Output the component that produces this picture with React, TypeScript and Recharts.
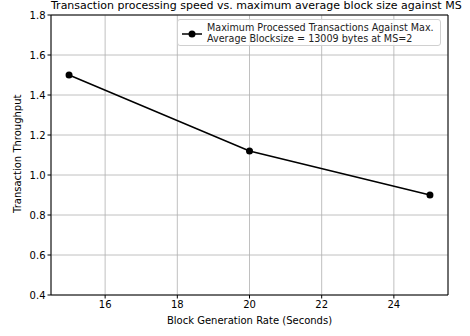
import { LineChart, Line, XAxis, YAxis, CartesianGrid, ReferenceLine, Legend } from 'recharts';

const blockRates = [15, 20, 25];
const throughput = [1.5, 1.12, 0.9];
const xTicks = [16, 18, 20, 22, 24];
const yTicks = [0.4, 0.6, 0.8, 1.0, 1.2, 1.4, 1.6, 1.8];

const data = blockRates.map((x, i) => ({ x, y: throughput[i] }));

const FONT = '"DejaVu Sans", sans-serif';

function LegendBox() {
  return (
    <div
      style={{
        position: 'absolute',
        left: 177,
        top: 19,
        width: 264,
        height: 27,
        border: '1px solid #d0d0d0',
        borderRadius: 3,
        background: 'rgba(255,255,255,0.8)',
        fontFamily: FONT,
        fontSize: 9.6,
        lineHeight: '11px',
        color: '#222',
        boxSizing: 'border-box',
      }}
    >
      <svg width={22} height={12} style={{ position: 'absolute', left: 3, top: 8 }}>
        <line x1={1} y1={6} x2={21} y2={6} stroke="#000" strokeWidth={1.5} />
        <circle cx={11} cy={6} r={3.5} fill="#000" />
      </svg>
      <div style={{ position: 'absolute', left: 29, top: 2, whiteSpace: 'nowrap' }}>
        Maximum Processed Transactions Against Max.
        <br />
        Average Blocksize = 13009 bytes at MS=2
      </div>
    </div>
  );
}

export default function App() {
  return (
    <div style={{ position: 'absolute', left: 0, top: 0, width: 470, height: 336, background: '#fff' }}>
      <div
        style={{
          position: 'absolute',
          left: 51,
          width: 397,
          top: 0,
          textAlign: 'center',
          fontFamily: FONT,
          fontSize: 11,
          lineHeight: '12px',
          whiteSpace: 'nowrap',
          color: '#000',
        }}
      >
        Transaction processing speed vs. maximum average block size against MS
      </div>
      <LineChart
        width={470}
        height={336}
        data={data}
        margin={{ top: 15, right: 22, bottom: 0, left: 0 }}
        style={{ fontFamily: FONT }}
      >
        <CartesianGrid stroke="#b0b0b0" strokeWidth={0.8} />
        <XAxis
          dataKey="x"
          type="number"
          domain={[14.5, 25.5]}
          ticks={xTicks}
          height={41}
          stroke="#000"
          tickSize={3.5}
          tick={{ fill: '#000', fontSize: 10 }}
          label={{ value: 'Block Generation Rate (Seconds)', position: 'insideBottom', offset: 12, fill: '#000', fontSize: 10 }}
          allowDataOverflow
        />
        <YAxis
          type="number"
          domain={[0.4, 1.8]}
          ticks={yTicks}
          width={51}
          stroke="#000"
          tickSize={3.5}
          tickFormatter={(v: number) => v.toFixed(1)}
          tick={{ fill: '#000', fontSize: 10 }}
          label={{ value: 'Transaction Throughput', angle: -90, position: 'insideLeft', offset: 17, dy: 58, fill: '#000', fontSize: 10 }}
          allowDataOverflow
        />
        <ReferenceLine x={25.5} stroke="#000" strokeWidth={1} />
        <ReferenceLine y={1.8} stroke="#000" strokeWidth={1} />
        <Legend content={() => null} />
        <Line
          dataKey="y"
          stroke="#000"
          strokeWidth={1.5}
          dot={{ r: 3.5, fill: '#000', stroke: '#000', strokeWidth: 0 }}
          isAnimationActive={false}
        />
      </LineChart>
      <LegendBox />
    </div>
  );
}
